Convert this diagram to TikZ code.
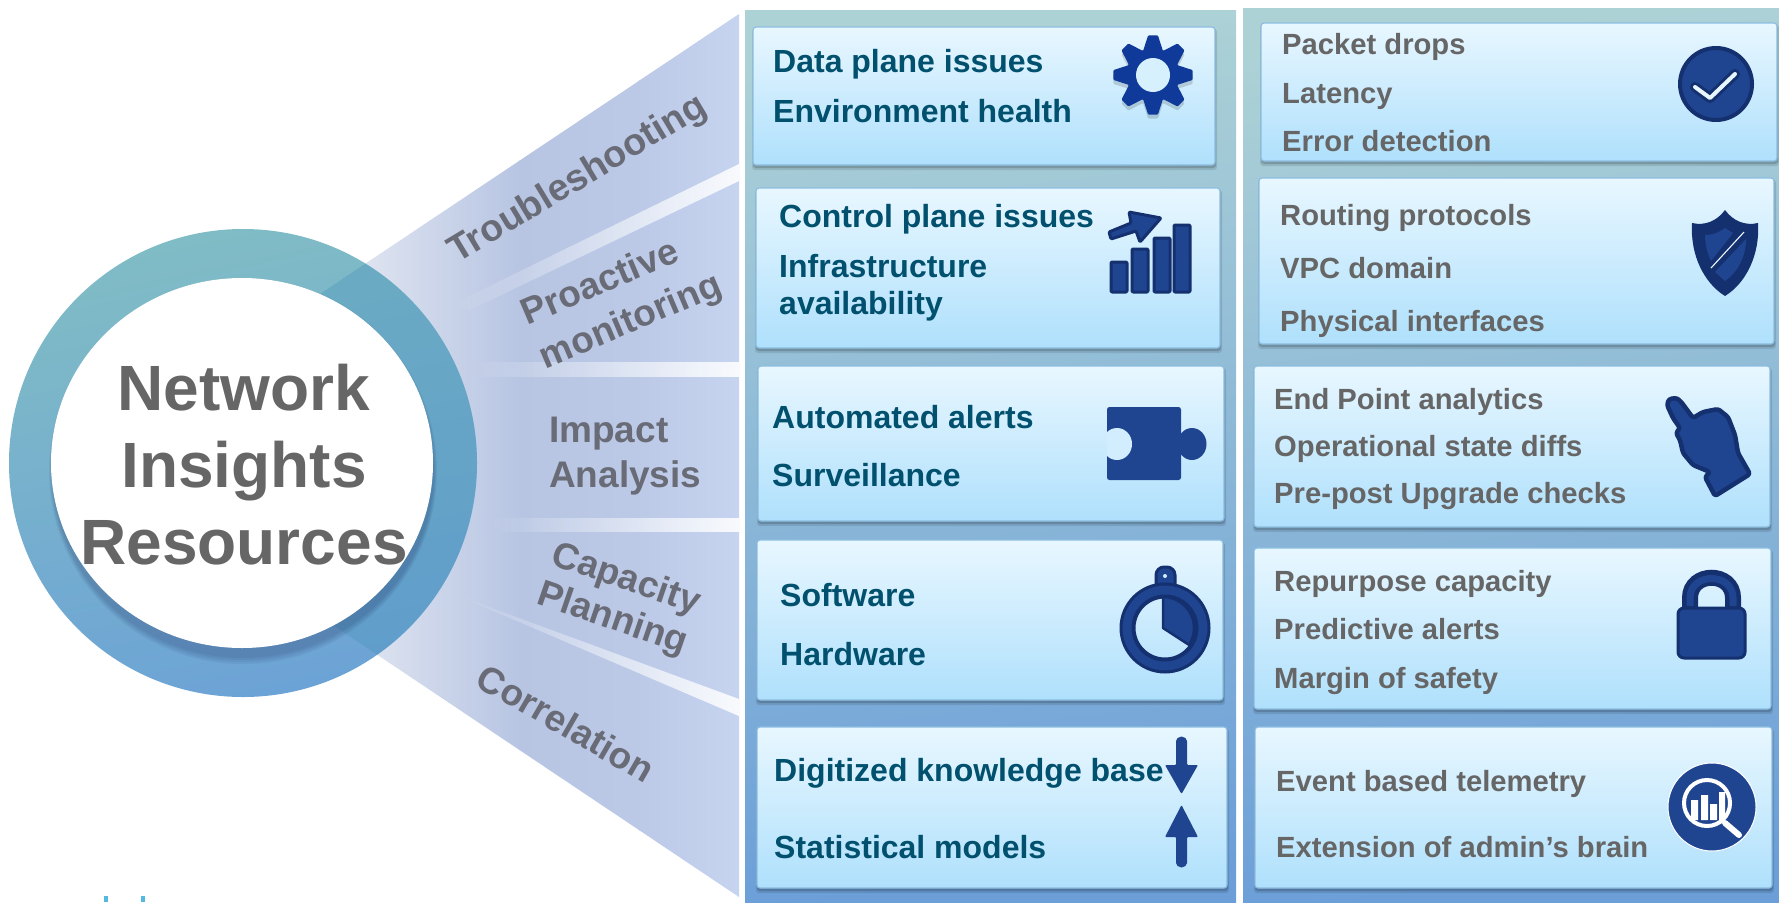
\documentclass[tikz,border=0pt]{standalone}
\usepackage{fontspec}
\setmainfont{Liberation Sans}
\usetikzlibrary{calc,fadings}
\definecolor{iconblue}{HTML}{1F4591}
\definecolor{icondark}{HTML}{15306F}
\definecolor{gearblue}{HTML}{0F3A9A}
\definecolor{cardtop}{HTML}{E8F7FF}
\definecolor{cardbot}{HTML}{AFE0FC}
\definecolor{cardedge}{HTML}{8DBDE0}
\definecolor{cardmid}{HTML}{D2EDFE}
\definecolor{tealtext}{HTML}{00506E}
\definecolor{graytext}{HTML}{666666}
\definecolor{fantext}{HTML}{696C76}
\definecolor{fana}{HTML}{DFE4F0}
\definecolor{fanb}{HTML}{B7C5E3}
\definecolor{fanc}{HTML}{C6D4F0}
\definecolor{paneltop}{HTML}{ADD2D6}
\definecolor{panelmid}{HTML}{7DACC0}
\definecolor{panelbot}{HTML}{6C9FD8}
\definecolor{ringtop}{HTML}{80BCC5}
\definecolor{ringmid}{HTML}{64A9C4}
\definecolor{ringbot}{HTML}{6CA3D6}
\definecolor{overlap}{HTML}{4A92BA}
\definecolor{logoblue}{HTML}{55B8E0}
\tikzfading[name=stripefade,left color=transparent!100,right color=transparent!12]
\tikzset{
  x=1pt,y=-1pt,
  ltext/.style={anchor=west,inner sep=0pt,font=\bfseries\fontsize{32}{36}\selectfont,text=tealtext,text height=23pt,text depth=6pt},
  rtext/.style={anchor=west,inner sep=0pt,font=\bfseries\fontsize{29.2}{33}\selectfont,text=graytext,text height=21pt,text depth=6pt},
  fanlabel/.style={inner sep=0pt,align=center,font=\bfseries\fontsize{37}{44}\selectfont,text=fantext},
  icon/.style={fill=iconblue,draw=icondark,line width=3pt,line join=round},
  stripe/.style={fill=white,path fading=stripefade},
  panelshade/.style={top color=paneltop,middle color=panelmid,bottom color=panelbot,shading angle=6},
}
\newcommand{\cardbox}[4]{%
  \fill[black,opacity=.10,rounded corners=3pt] (#1-1,#2+2) rectangle (#3+2,#4+5);
  \fill[black,opacity=.16,rounded corners=3pt] (#1,#2+1) rectangle (#3+1,#4+3);
  \shade[top color=cardtop,bottom color=cardbot,draw=cardedge,line width=1.2pt,rounded corners=3pt] (#1,#2) rectangle (#3,#4);
}
\begin{document}
\begin{tikzpicture}
\useasboundingbox (0,0) rectangle (1779,902);
\fill[white] (0,0) rectangle (1779,902);
% logo ticks at the lower edge
\fill[logoblue] (104,896) rectangle (108,902);
\fill[logoblue] (141,896) rectangle (145,902);
% fan
\begin{scope}
  \clip (79,455) -- (739,14) -- (739,897) -- cycle;
  \shade[left color=fana,right color=fanb] (360,0) rectangle (520,902);
  \shade[left color=fanb,right color=fanb!70!fanc] (519,0) rectangle (640,902);
  \shade[left color=fanb!70!fanc,right color=fanc] (639,0) rectangle (739,902);
  \fill[stripe] (451,305) -- (739,164) -- (739,181) -- (470,310) -- cycle;
  \fill[stripe] (470,362) -- (739,362) -- (739,377) -- (470,377) -- cycle;
  \fill[stripe] (490,518) -- (739,518) -- (739,532) -- (490,532) -- cycle;
  \fill[stripe] (451,593) -- (739,699) -- (739,716) -- (470,601) -- cycle;
\end{scope}
% panels
\shade[panelshade] (745,10) rectangle (1236,902);
\shade[panelshade] (1243,8) rectangle (1779,902);
% ring
\shade[top color=ringtop,middle color=ringmid,bottom color=ringbot,shading angle=12] (243,463) circle[radius=234pt];
\begin{scope}
  \clip (243,463) circle[radius=234pt];
  \fill[overlap,opacity=.35] (79,455) -- (739,14) -- (739,897) -- cycle;
  \foreach \r in {8,6,4,2} \fill[black!80!blue,opacity=.05] (243,471) ellipse[x radius=190pt+0.5*\r pt,y radius=185pt+\r pt];
\end{scope}
\fill[white] (242,463) ellipse[x radius=191pt,y radius=185pt];
\node[inner sep=0pt,align=center,font=\bfseries\fontsize{64}{77}\selectfont,text=graytext] (title) at (244,465) {Network\\Insights\\Resources};
% fan labels
\node[fanlabel,rotate=31,font=\bfseries\fontsize{37.5}{44}\selectfont] (lab1) at (578,180) {Troubleshooting};
\node[fanlabel,rotate=23,align=left,font=\bfseries\fontsize{37}{47}\selectfont] (lab2) at (622,301) {Proactive\\monitoring};
\node[fanlabel,align=left,anchor=west,font=\bfseries\fontsize{37}{45}\selectfont] (lab3) at (549,456) {Impact\\Analysis};
\node[fanlabel,rotate=-19,font=\bfseries\fontsize{37}{42}\selectfont] (lab4) at (619,600) {Capacity\\Planning};
\node[fanlabel,rotate=-30] (lab5) at (566,723) {Correlation};
% left cards
\cardbox{753}{27}{1215}{165}
\cardbox{756}{188}{1220}{348}
\cardbox{758}{366}{1224}{521}
\cardbox{757}{540}{1223}{700}
\cardbox{757}{727}{1227}{888}
% right cards
\cardbox{1261}{23}{1777}{161}
\cardbox{1259}{178}{1774}{344}
\cardbox{1254}{366}{1770}{527}
\cardbox{1254}{548}{1771}{709}
\cardbox{1255}{727}{1772}{888}
% left texts
\node[ltext] (l1a) at (773,64) {Data plane issues};
\node[ltext] (l1b) at (773,114) {Environment health};
\node[ltext] (l2a) at (779,219) {Control plane issues};
\node[ltext] (l2b) at (779,269) {Infrastructure};
\node[ltext] (l2c) at (779,306) {availability};
\node[ltext] (l3a) at (772,420) {Automated alerts};
\node[ltext] (l3b) at (772,478) {Surveillance};
\node[ltext] (l4a) at (780,598) {Software};
\node[ltext] (l4b) at (780,657) {Hardware};
\node[ltext] (l5a) at (774,773) {Digitized knowledge base};
\node[ltext] (l5b) at (774,850) {Statistical models};
% right texts
\node[rtext] (r1a) at (1282,47) {Packet drops};
\node[rtext] (r1b) at (1282,96) {Latency};
\node[rtext] (r1c) at (1282,144) {Error detection};
\node[rtext] (r2a) at (1280,218) {Routing protocols};
\node[rtext] (r2b) at (1280,271) {VPC domain};
\node[rtext] (r2c) at (1280,324) {Physical interfaces};
\node[rtext] (r3a) at (1274,402) {End Point analytics};
\node[rtext] (r3b) at (1274,449) {Operational state diffs};
\node[rtext] (r3c) at (1274,496) {Pre-post Upgrade checks};
\node[rtext] (r4a) at (1274,584) {Repurpose capacity};
\node[rtext] (r4b) at (1274,632) {Predictive alerts};
\node[rtext] (r4c) at (1274,681) {Margin of safety};
\node[rtext] (r5a) at (1276,784) {Event based telemetry};
\node[rtext] (r5b) at (1276,850) {Extension of admin’s brain};
% gear
\begin{scope}[shift={(1153,75)}]
  \foreach \sh/\col/\op in {4/black/.15,0/gearblue/1} {
  \fill[\col,opacity=\op,rounded corners=1pt]
    ({40*cos(-7)},{\sh+40*sin(-7)}) -- ({40*cos(7)},{\sh+40*sin(7)}) -- ({26*cos(22.5)},{\sh+26*sin(22.5)})
 -- ({40*cos(38)},{\sh+40*sin(38)}) -- ({40*cos(52)},{\sh+40*sin(52)}) -- ({26*cos(67.5)},{\sh+26*sin(67.5)})
 -- ({40*cos(83)},{\sh+40*sin(83)}) -- ({40*cos(97)},{\sh+40*sin(97)}) -- ({26*cos(112.5)},{\sh+26*sin(112.5)})
 -- ({40*cos(128)},{\sh+40*sin(128)}) -- ({40*cos(142)},{\sh+40*sin(142)}) -- ({26*cos(157.5)},{\sh+26*sin(157.5)})
 -- ({40*cos(173)},{\sh+40*sin(173)}) -- ({40*cos(187)},{\sh+40*sin(187)}) -- ({26*cos(202.5)},{\sh+26*sin(202.5)})
 -- ({40*cos(218)},{\sh+40*sin(218)}) -- ({40*cos(232)},{\sh+40*sin(232)}) -- ({26*cos(247.5)},{\sh+26*sin(247.5)})
 -- ({40*cos(263)},{\sh+40*sin(263)}) -- ({40*cos(277)},{\sh+40*sin(277)}) -- ({26*cos(292.5)},{\sh+26*sin(292.5)})
 -- ({40*cos(308)},{\sh+40*sin(308)}) -- ({40*cos(322)},{\sh+40*sin(322)}) -- ({26*cos(337.5)},{\sh+26*sin(337.5)})
 -- cycle;
  }
  \fill[cardtop!70!cardbot] (0,0) circle[radius=17pt];
\end{scope}
% bar chart
\foreach \xa/\ya in {1111/262,1132/249,1154/238,1174/225}
  \draw[icon,rounded corners=1pt] (\xa,\ya) rectangle (\xa+16,292);
\draw[icon,rounded corners=1pt] (1109,232) -- (1131,223) -- (1129,212) -- (1161,218) -- (1140,242) -- (1136,231) -- (1111,239) -- cycle;
% puzzle piece
\fill[iconblue,rounded corners=2.5pt] (1107,407) rectangle (1181,480);
\fill[iconblue] (1192,444) ellipse[x radius=14.5pt,y radius=16pt];
\begin{scope}
  \clip (1107,400) rectangle (1140,490);
  \fill[cardmid] (1117,444) ellipse[x radius=15pt,y radius=16pt];
\end{scope}
% stopwatch
\draw[icon,rounded corners=8pt] (1156,592) -- (1156,567) -- (1175,567) -- (1175,592) -- cycle;
\fill[cardmid] (1165,576) circle[radius=2pt];
\draw[icondark,line width=3pt,fill=iconblue,even odd rule] (1165,628) circle[radius=44pt] (1165,628) circle[radius=31pt];
\draw[icondark,line width=3pt] (1165,628) circle[radius=32pt];
\draw[icon,line width=2.5pt] (1163,628) -- ++(0,-31) arc[start angle=90,end angle=-33,radius=31pt] -- cycle;
% arrows
\fill[iconblue,rounded corners=1pt] (1176,742) arc[start angle=180,end angle=0,radius=5.5pt] -- (1187,765) -- (1198,765) -- (1181.5,794) -- (1165,765) -- (1176,765) -- cycle;
\fill[iconblue,rounded corners=1pt] (1176,862) arc[start angle=180,end angle=360,radius=5.5pt] -- (1187,837) -- (1198,837) -- (1181.5,805) -- (1165,837) -- (1176,837) -- cycle;
% check badge
\draw[icon,line width=4pt] (1716,84) circle[radius=36pt];
\draw[icondark,line width=10pt,line cap=round,line join=round] (1695,87) -- (1710,98) -- (1735,74);
\draw[cardtop,line width=4pt,line cap=round,line join=round] (1695,87) -- (1710,98) -- (1735,74);
% shield
\fill[icondark] (1725,210) .. controls (1717,221) and (1705,226) .. (1692,223) .. controls (1690,255) and (1704,283) .. (1725,296) .. controls (1746,283) and (1760,255) .. (1758,223) .. controls (1745,226) and (1733,221) .. (1725,210) -- cycle;
\fill[iconblue] (1705,235) .. controls (1713,235) and (1720,232) .. (1725,228) -- (1733,233) -- (1711,261) .. controls (1707,252) and (1705,244) .. (1705,235) -- cycle;
\fill[iconblue] (1746,239) .. controls (1746,256) and (1738,272) .. (1725,281) -- (1715,272) -- cycle;
\draw[cardtop!85!white,line width=1.1pt] (1744,232) -- (1711,268);
% hand
\draw[icon,line width=4.5pt,rounded corners=2.5pt] (1667,405) -- (1669,399) -- (1677,398) -- (1682,403) -- (1693,418) -- (1703,412) -- (1718,409) -- (1728,417) -- (1735,435) -- (1738,453) -- (1750,474) -- (1715,496) -- (1705,477) -- (1710,472) -- (1693,465) -- (1683,453) -- (1680,440) -- (1676,433) -- (1680,428) -- (1673,418) -- cycle;
% lock
\draw[icondark,line width=16pt,line cap=butt] (1690,610) -- (1690,598) .. controls (1690,571) and (1733,571) .. (1733,598) -- (1733,610);
\draw[iconblue,line width=7pt,line cap=butt] (1690,606) -- (1690,598) .. controls (1690,572) and (1733,572) .. (1733,598) -- (1733,606);
\draw[icon,rounded corners=6pt] (1678,608) rectangle (1745,658);
% magnifier badge
\fill[iconblue,draw=white,line width=1pt] (1712,807) circle[radius=44pt];
\draw[white,line width=4pt] (1707,803) circle[radius=23pt];
\draw[white,line width=6pt,line cap=round] (1725,823) -- (1739,835);
\fill[white] (1691,800) rectangle (1698,820) (1701,795) rectangle (1708,820) (1710,804) rectangle (1717,820) (1719,792) rectangle (1725,820);
\end{tikzpicture}
\end{document}
